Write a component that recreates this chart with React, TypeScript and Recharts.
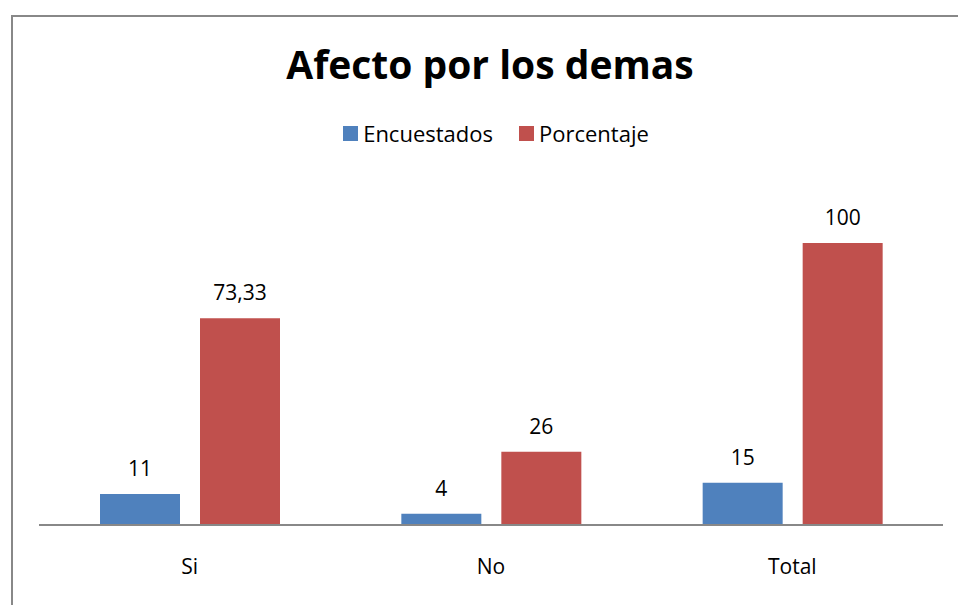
import React from "react";
import { BarChart, Bar, XAxis, YAxis, LabelList } from "recharts";

const categories = ["Si", "No", "Total"];
const encuestados = [11, 4, 15];
const porcentaje = [73.33, 26, 100];
const seriesNames = ["Encuestados", "Porcentaje"];
const seriesColors = ["#4F81BD", "#C0504D"];

const data = categories.map((c, i) => ({
  name: c,
  Encuestados: encuestados[i],
  Porcentaje: porcentaje[i],
}));

const FONT = "'Open Sans', Lato, sans-serif";

const fmt = (v: any) => String(v).replace(".", ",");

const CatTick = (props: any) => {
  const { x, y, payload } = props;
  return (
    <text x={x} y={y + 33} textAnchor="middle" dominantBaseline="central" fontSize={21} fontFamily={FONT} fill="#000">
      {payload.value}
    </text>
  );
};

export default function App() {
  return (
    <div style={{ position: "absolute", left: 0, top: 0, width: 958, height: 605, background: "#fff", overflow: "hidden" }}>
      <div
        style={{
          position: "absolute",
          left: 11,
          top: 15,
          width: 960,
          height: 600,
          borderLeft: "2px solid #888",
          borderTop: "2px solid #888",
        }}
      />
      <div
        style={{
          position: "absolute",
          left: 0,
          width: 980,
          top: 38,
          textAlign: "center",
          fontFamily: FONT,
          fontWeight: 700,
          fontSize: 39,
          lineHeight: "52px",
          color: "#000",
        }}
      >
        Afecto por los demas
      </div>
      <div
        style={{
          position: "absolute",
          left: 0,
          width: 992,
          top: 119,
          height: 28,
          display: "flex",
          justifyContent: "center",
          alignItems: "center",
          fontFamily: FONT,
          fontSize: 22,
          color: "#000",
        }}
      >
        {seriesNames.map((n, i) => (
          <div key={n} style={{ display: "flex", alignItems: "center", marginRight: i === 0 ? 26 : 0 }}>
            <div style={{ width: 15, height: 15, background: seriesColors[i], marginRight: 5 }} />
            <span>{n}</span>
          </div>
        ))}
      </div>
      <div style={{ position: "absolute", left: 0, top: 0 }}>
        <BarChart
          width={958}
          height={605}
          data={data}
          margin={{ top: 243, right: 15, left: 39, bottom: 50 }}
          barSize={80}
          barGap={20}
        >
          <XAxis
            dataKey="name"
            height={30}
            axisLine={{ stroke: "#888", strokeWidth: 2 }}
            tickLine={false}
            tick={<CatTick />}
            interval={0}
          />
          <YAxis hide domain={[0, 100]} />
          <Bar dataKey="Encuestados" fill={seriesColors[0]} isAnimationActive={false}>
            <LabelList dataKey="Encuestados" position="top" offset={18} fill="#000" fontSize={21} fontFamily={FONT} formatter={fmt} />
          </Bar>
          <Bar dataKey="Porcentaje" fill={seriesColors[1]} isAnimationActive={false}>
            <LabelList dataKey="Porcentaje" position="top" offset={18} fill="#000" fontSize={21} fontFamily={FONT} formatter={fmt} />
          </Bar>
        </BarChart>
      </div>
    </div>
  );
}
